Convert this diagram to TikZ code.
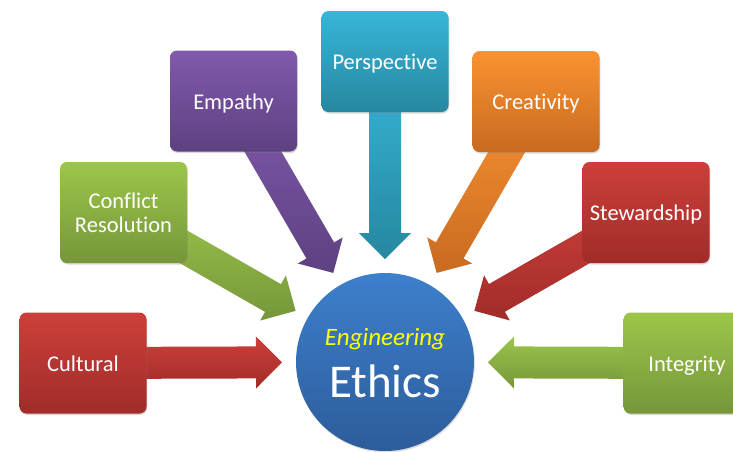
\documentclass[tikz,border=0pt]{standalone}
\usepackage{fontspec}
\setmainfont{Carlito}[Ligatures={NoCommon,NoRequired,NoContextual}]
\usetikzlibrary{calc,shadows}

\definecolor{redT}{HTML}{CD3F3A}
\definecolor{redB}{HTML}{A02C29}
\definecolor{grnT}{HTML}{9CC64A}
\definecolor{grnB}{HTML}{76963A}
\definecolor{purT}{HTML}{8159AE}
\definecolor{purB}{HTML}{5D4180}
\definecolor{tealT}{HTML}{37B6D8}
\definecolor{tealB}{HTML}{2687A0}
\definecolor{orgT}{HTML}{FA9230}
\definecolor{orgB}{HTML}{C86B21}
\definecolor{hubT}{HTML}{3D80CD}
\definecolor{hubB}{HTML}{2D5C9A}
\definecolor{engYellow}{HTML}{FFFF00}

\pgfdeclarelayer{back}
\pgfsetlayers{back,main}

\tikzset{
  card/.style={rectangle, rounded corners=7pt, minimum width=127pt,
    minimum height=101pt, inner sep=0pt, text=white, align=center,
    font=\fontsize{22.5}{24}\selectfont,
    drop shadow={opacity=0.3, shadow xshift=0.8pt, shadow yshift=-1.5pt}},
  oneline/.style={text height=21pt, text depth=5pt},
  shadeRed/.style={top color=redT, bottom color=redB},
  shadeGrn/.style={top color=grnT, bottom color=grnB},
  shadePur/.style={top color=purT, bottom color=purB},
  shadeTeal/.style={top color=tealT, bottom color=tealB},
  shadeOrg/.style={top color=orgT, bottom color=orgB},
  hubstyle/.style={circle, minimum size=178pt, inner sep=0pt,
    top color=hubT, bottom color=hubB,
    drop shadow={opacity=0.25, shadow xshift=0.8pt, shadow yshift=-1.5pt}},
}

% block arrow from a card's centre towards the hub, tip 103pt from the hub centre
\newcommand{\spoke}[2]{%
  \coordinate (#1-tip) at ($(hub.center)!103pt!(#1.center)$);
  \coordinate (#1-base) at ($(#1-tip)!26pt!(#1.center)$);
  \shade[#2]
    ($(#1.center)!16pt!90:(#1-tip)$) --
    ($(#1-base)!16pt!90:(#1-tip)$) --
    ($(#1-base)!26pt!90:(#1-tip)$) --
    (#1-tip) --
    ($(#1-base)!26pt!-90:(#1-tip)$) --
    ($(#1-base)!16pt!-90:(#1-tip)$) --
    ($(#1.center)!16pt!-90:(#1-tip)$) -- cycle;
}

\begin{document}
\begin{tikzpicture}[x=1pt,y=-1pt]
\clip (0,0) rectangle (733,451);
\useasboundingbox (0,0) rectangle (733,451);

% central hub
\node[hubstyle] (hub) at (385,362) {};
\node[anchor=base, text=engYellow, font=\fontsize{25}{28}\selectfont\itshape] (eng) at (385,345) {Engineering};
\node[anchor=base, text=white, font=\fontsize{47}{50}\selectfont] (eth) at (385,397) {Ethics};

% surrounding cards
\node[card, oneline, shadeRed] (cultural) at (83,363) {Cultural};
\node[card, shadeGrn] (conflict) at (123.5,212.5) {Conflict\\Resolution};
\node[card, oneline, shadePur] (empathy) at (233.5,101) {Empathy};
\node[card, oneline, shadeTeal] (perspective) at (385,61.5) {Perspective};
\node[card, oneline, shadeOrg] (creativity) at (536,101.5) {Creativity};
\node[card, oneline, shadeRed] (stewardship) at (646,212.5) {Stewardship};
\node[card, oneline, shadeGrn] (integrity) at (687,363) {Integrity};

% block arrows behind the cards
\begin{pgfonlayer}{back}
  \spoke{cultural}{shadeRed}
  \spoke{conflict}{shadeGrn}
  \spoke{empathy}{shadePur}
  \spoke{perspective}{shadeTeal}
  \spoke{creativity}{shadeOrg}
  \spoke{stewardship}{shadeRed}
  \spoke{integrity}{shadeGrn}
\end{pgfonlayer}
\end{tikzpicture}
\end{document}
